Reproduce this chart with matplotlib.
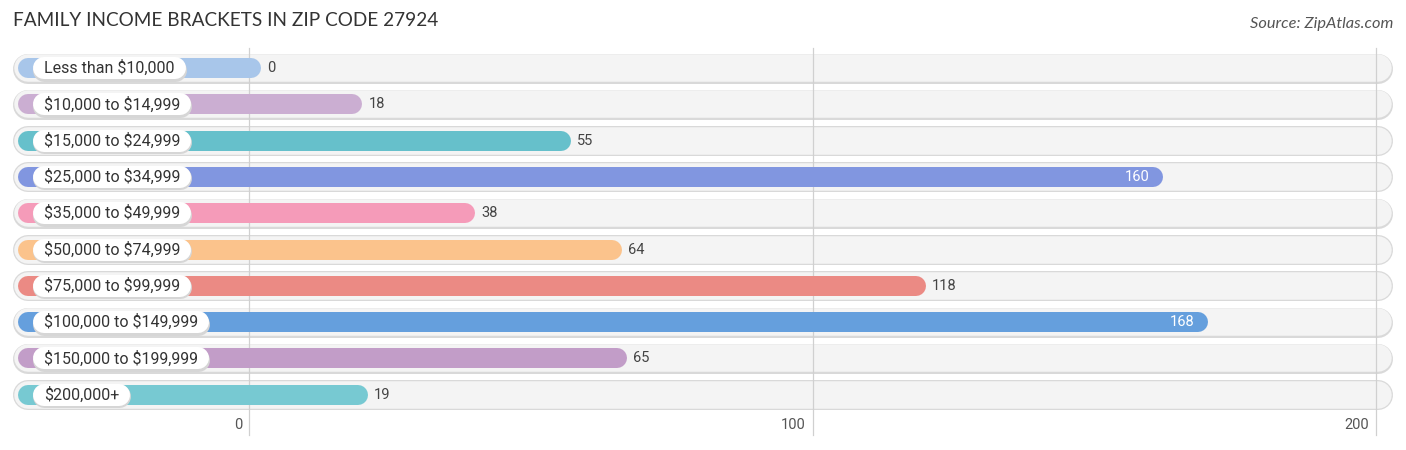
import matplotlib.pyplot as plt

categories = ['Less than $10,000', '$10,000 to $14,999', '$15,000 to $24,999',
              '$25,000 to $34,999', '$35,000 to $49,999', '$50,000 to $74,999',
              '$75,000 to $99,999', '$100,000 to $149,999', '$150,000 to $199,999',
              '$200,000+']
values = [0, 18, 55, 160, 38, 64, 118, 168, 65, 19]
colors = ['#a8c6ea', '#cbaed2', '#66c0cb', '#8196e0', '#f59bb9',
          '#fbc38c', '#eb8a84', '#659fdd', '#c29dc8', '#77c9d2']
ticks = [0, 100, 200]

W, H, DPI = 1406, 450, 100
x0_px, x200_px = 249, 1376          # pixel position of 0 and 200
scale = (x200_px - x0_px) / 200.0   # pixels per unit
row0_px, row_step = 68, 36.3

fig = plt.figure(figsize=(W / DPI, H / DPI), dpi=DPI)
ax = fig.add_axes([0, 0, 1, 1])
ax.set_xlim(-x0_px / scale, (W - x0_px) / scale)
ax.set_ylim((H - row0_px) / row_step, -row0_px / row_step)
ax.axis('off')

px = lambda p: (p - x0_px) / scale      # pixel x -> data x
pt = lambda p: p * 72.0 / DPI           # pixels -> points
dy = 1 / row_step                       # one pixel in y data units

# gridlines + tick labels
for t in ticks:
    ax.plot([t, t], [-20 * dy, 9 + 40 * dy], color='#d0d0d0', lw=0.9, zorder=2)
    ax.text(t - 7 / scale, 9 + 30 * dy, str(t), ha='right', va='center',
            fontsize=10.5, family='Roboto', color='#555555')

renderer = fig.canvas.get_renderer()

for i, (cat, v, c) in enumerate(zip(categories, values, colors)):
    # row background with soft border
    ax.plot([px(28), px(1378)], [i + 0.5 * dy, i + 0.5 * dy], color='#d9d9d9', lw=pt(30),
            solid_capstyle='round', zorder=1)
    ax.plot([px(28), px(1378)], [i, i], color='#f4f4f4', lw=pt(27.5),
            solid_capstyle='round', zorder=1)
    # bar
    end = v + 2 / scale
    ax.plot([px(28), end], [i, i], color=c, lw=pt(20), solid_capstyle='round', zorder=3)
    # category label pill
    txt = ax.text(px(44), i, cat, ha='left', va='center', fontsize=11.5,
                  family='Roboto', color='#333333', zorder=6, parse_math=False)
    bb = txt.get_window_extent(renderer)
    ax.plot([px(44), px(44 + bb.width)], [i + 1.5 * dy, i + 1.5 * dy], color='#d6d6d6',
            lw=pt(23), solid_capstyle='round', zorder=4)
    ax.plot([px(44), px(44 + bb.width)], [i, i], color='white',
            lw=pt(22), solid_capstyle='round', zorder=5)
    # value label
    if v > 140:
        ax.text(end - 3 / scale, i, str(v), ha='right', va='center', fontsize=10.5,
                family='Roboto', color='white', zorder=6)
    else:
        ax.text(end + 16 / scale, i, str(v), ha='left', va='center', fontsize=10.5,
                family='Roboto', color='#444444', zorder=6)

fig.text(13 / W, 1 - 21 / H, 'FAMILY INCOME BRACKETS IN ZIP CODE 27924', ha='left',
         va='center', fontsize=13.7, family='Lato', color='#333333')
fig.text(1 - 13 / W, 1 - 24 / H, 'Source: ZipAtlas.com', ha='right', va='center',
         fontsize=11.8, family='Lato', style='italic', color='#555555')

fig.savefig('out.png', dpi=DPI)
